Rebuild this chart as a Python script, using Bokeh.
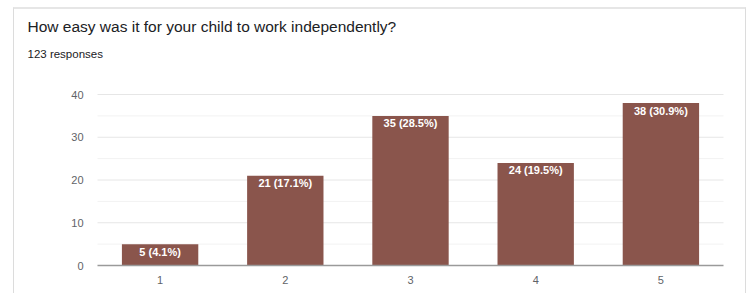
from bokeh.plotting import figure
from bokeh.models import ColumnDataSource, Range1d, LabelSet, Label
from bokeh.core.properties import value
from bokeh.embed import file_html
from bokeh.resources import INLINE

categories = ["1", "2", "3", "4", "5"]
counts = [5, 21, 35, 24, 38]
percent_labels = ["5 (4.1%)", "21 (17.1%)", "35 (28.5%)", "24 (19.5%)", "38 (30.9%)"]
y_ticks = [0, 10, 20, 30, 40]

title_text = "How easy was it for your child to work independently?"
subtitle_text = "123 responses"

FONT = "Liberation Sans"
BAR_COLOR = "#8a554c"
TICK_COLOR = "#5f6368"

# category positions on a numeric scale (1..n), domain edges at +-0.5
xpos = list(range(1, len(categories) + 1))
x_lo, x_hi = xpos[0] - 0.5, xpos[-1] + 0.5
minor_ticks = [(a + b) / 2 for a, b in zip(y_ticks[:-1], y_ticks[1:])]

# figure geometry (pixels): plot domain occupies 83..709 horizontally, 85..256 vertically
W, H = 733, 286
L_PX, R_PX, T_PX, B_PX = 83, 709, 85, 256
xs = (R_PX - L_PX) / (x_hi - x_lo)
ys = (B_PX - T_PX) / (y_ticks[-1] - y_ticks[0])
x_range = Range1d(x_lo - L_PX / xs, x_hi + (W - R_PX) / xs)
y_range = Range1d(y_ticks[0] - (H - B_PX) / ys, y_ticks[-1] + T_PX / ys)

src = ColumnDataSource(dict(x=xpos, count=counts, lab=percent_labels))

p = figure(width=W, height=H, x_range=x_range, y_range=y_range,
           output_backend="svg", toolbar_location=None, title=None,
           x_axis_location=None, y_axis_location=None,
           min_border_left=0, min_border_right=0, min_border_top=0, min_border_bottom=0)

p.styles = {"border-top": "2px solid #e6e6e6", "border-left": "1px solid #dcdcdc",
            "border-right": "1px solid #dcdcdc", "box-sizing": "border-box",
            "margin-left": "13px", "margin-top": "7px"}

p.grid.visible = False
p.outline_line_color = None
p.background_fill_color = "white"
p.border_fill_color = "white"

# grid lines (minor, then major) spanning the category domain
p.segment(x0=[x_lo] * len(minor_ticks), x1=[x_hi] * len(minor_ticks), y0=minor_ticks,
          y1=minor_ticks, line_color="#f2f2f2", line_width=1)
p.segment(x0=[x_lo] * (len(y_ticks) - 1), x1=[x_hi] * (len(y_ticks) - 1), y0=y_ticks[1:],
          y1=y_ticks[1:], line_color="#e6e6e6", line_width=1)

p.vbar(x="x", top="count", width=0.61, source=src, color=BAR_COLOR, line_color=None)

# baseline (x axis line)
p.segment(x0=[x_lo], x1=[x_hi], y0=[y_ticks[0]], y1=[y_ticks[0]],
          line_color="#9a9a9a", line_width=1.5)

# y tick labels
p.text(x=[x_lo] * len(y_ticks), y=y_ticks, text=[str(t) for t in y_ticks],
       text_font=value(FONT), text_font_size="11px", text_color=TICK_COLOR,
       text_align="right", text_baseline="middle", x_offset=-14)

# x tick labels
p.text(x=xpos, y=[y_ticks[0]] * len(xpos), text=categories,
       text_font=value(FONT), text_font_size="11px", text_color=TICK_COLOR,
       text_align="center", text_baseline="middle", y_offset=14)

labels = LabelSet(x="x", y="count", text="lab", source=src, text_color="white",
                  text_font=value(FONT), text_font_size="11px", text_font_style="bold",
                  text_align="center", text_baseline="top", y_offset=-1.5)
p.add_layout(labels)

main = Label(x=12, y=14.7, x_units="canvas", y_units="canvas", text=title_text,
             text_font=FONT, text_font_size="15.5px", text_color="#202124",
             text_baseline="alphabetic", text_align="left")
sub = Label(x=12, y=42.5, x_units="canvas", y_units="canvas", text=subtitle_text,
            text_font=FONT, text_font_size="11.5px", text_color="#202124",
            text_baseline="alphabetic", text_align="left")
p.add_layout(main)
p.add_layout(sub)

open("out.html", "w").write(file_html(p, INLINE))
